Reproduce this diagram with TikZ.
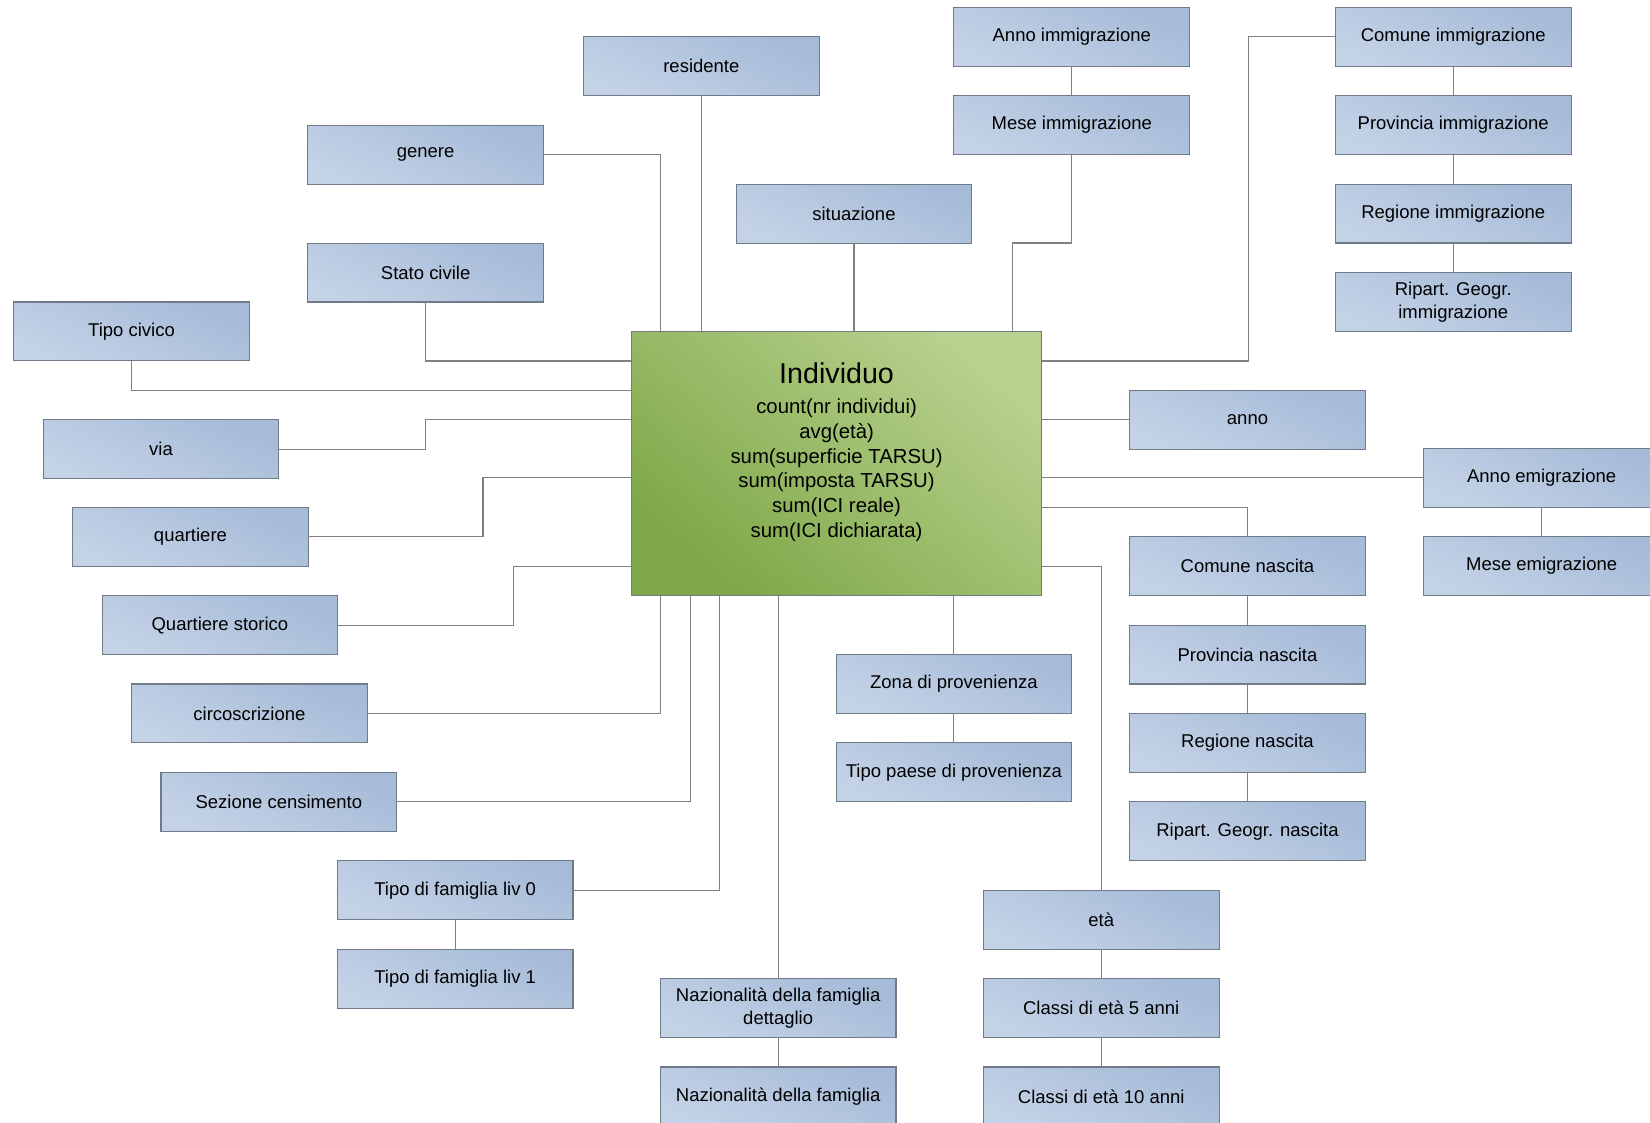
\documentclass[tikz,border=0pt]{standalone}
\usepackage{fontspec}
\setmainfont{Liberation Sans}
\usetikzlibrary{positioning, calc}

\definecolor{boxtop}{RGB}{166,187,216}
\definecolor{boxbottom}{RGB}{196,210,230}
\definecolor{boxline}{RGB}{112,122,136}
\definecolor{facttop}{RGB}{184,209,142}
\definecolor{factbottom}{RGB}{126,168,72}
\definecolor{linkgray}{RGB}{128,128,128}

\begin{document}
\begin{tikzpicture}[
    x=0.02cm, y=-0.02cm,
    node distance=0.56cm,
    dimbox/.style={rectangle, draw=boxline, line width=0.6pt, outer sep=0pt, top color=boxtop, bottom color=boxbottom, shading angle=-25, minimum width=4.48cm, minimum height=1.12cm, inner sep=2pt, align=center, font=\fontsize{10}{12.5}\selectfont},
    factbox/.style={rectangle, draw=boxline, line width=0.6pt, outer sep=0pt, top color=facttop, bottom color=factbottom, shading angle=-40, minimum width=7.8cm, minimum height=5.02cm},
    link/.style={draw=linkgray, line width=0.6pt}
]

\fill [white] (0,0) rectangle (1568,1067);
\clip (0,0) rectangle (1568,1067);

% fact
\node (ind) [factbox] at (795,440.5) {};
\node (indtext) [align=center, font=\fontsize{11}{13.4}\selectfont] at ($(ind.center)+(0,-11)$) {{\fontsize{15.5}{18}\selectfont Individuo}\\[3pt] count(nr individui)\\ avg(età)\\ sum(superficie TARSU)\\ sum(imposta TARSU)\\ sum(ICI reale)\\ sum(ICI dichiarata)};

% top
\node (residente) [dimbox] at (666.5,63) {residente};
\node (genere) [dimbox] at (404.5,147) {genere};
\node (stato) [dimbox] at (404.5,259) {Stato civile};
\node (situazione) [dimbox] at (811.5,203) {situazione};
\node (annoimm) [dimbox] at (1018.5,35) {Anno immigrazione};
\node (meseimm) [dimbox, below=of annoimm] {Mese immigrazione};
\node (comimm) [dimbox] at (1381,35) {Comune immigrazione};
\node (provimm) [dimbox, below=of comimm] {Provincia immigrazione};
\node (regimm) [dimbox, below=of provimm] {Regione immigrazione};
\node (ripimm) [dimbox, below=of regimm] {Ripart. Geogr.\\immigrazione};

% left
\node (tipociv) [dimbox] at (125,315) {Tipo civico};
\node (via) [dimbox] at (153,427) {via};
\node (quart) [dimbox] at (181,510) {quartiere};
\node (quartst) [dimbox] at (209,594) {Quartiere storico};
\node (circ) [dimbox] at (237,678) {circoscrizione};
\node (sezione) [dimbox] at (265,762) {Sezione censimento};

% bottom
\node (fam0) [dimbox] at (432.5,846) {Tipo di famiglia liv 0};
\node (fam1) [dimbox, below=of fam0] {Tipo di famiglia liv 1};
\node (nazdett) [dimbox] at (739.5,958) {Nazionalità della famiglia\\dettaglio};
\node (naz) [dimbox, below=of nazdett] {Nazionalità della famiglia};
\node (zona) [dimbox] at (906.5,650) {Zona di provenienza};
\node (tipopaese) [dimbox, below=of zona] {Tipo paese di provenienza};
\node (eta) [dimbox] at (1046.5,874) {età};
\node (classi5) [dimbox, below=of eta] {Classi di età 5 anni};
\node (classi10) [dimbox, below=of classi5] {Classi di età 10 anni};

% right
\node (anno) [dimbox] at (1185.5,399) {anno};
\node (annoemi) [dimbox] at (1465,454) {Anno emigrazione};
\node (meseemi) [dimbox, below=of annoemi] {Mese emigrazione};
\node (comnasc) [dimbox] at (1185.5,538) {Comune nascita};
\node (provnasc) [dimbox, below=of comnasc] {Provincia nascita};
\node (regnasc) [dimbox, below=of provnasc] {Regione nascita};
\node (ripnasc) [dimbox, below=of regnasc] {Ripart. Geogr. nascita};

% links to the fact
\draw [link] (genere.east) -| ($(ind.north west)+(28,0)$);
\draw [link] (residente) -- (residente |- ind.north);
\draw [link] (situazione) -- (situazione |- ind.north);
\draw [link] (meseimm.south) -- ++(0,84) -| ($(ind.north west)+(362,0)$);
\draw [link] (comimm.west) -- ++(-83,0) |- ($(ind.north east)+(0,28)$);
\draw [link] (anno) -- (anno -| ind.east);
\draw [link] (annoemi) -- (annoemi -| ind.east);
\draw [link] ($(ind.north east)+(0,167)$) -| (comnasc.north);
\draw [link] ($(ind.north east)+(0,223)$) -| (eta.north);
\draw [link] (circ.east) -| ($(ind.south west)+(28,0)$);
\draw [link] (sezione.east) -| ($(ind.south west)+(56,0)$);
\draw [link] (fam0.east) -| ($(ind.south west)+(84,0)$);
\draw [link] (nazdett) -- (nazdett |- ind.south);
\draw [link] (zona) -- (zona |- ind.south);
\draw [link] (stato.south) |- ($(ind.north west)+(0,28)$);
\draw [link] (tipociv.south) |- ($(ind.north west)+(0,56)$);
\draw [link] (via.east) -- ++(139,0) |- ($(ind.north west)+(0,84)$);
\draw [link] (quart.east) -- ++(166,0) |- ($(ind.north west)+(0,139)$);
\draw [link] (quartst.east) -- ++(167,0) |- ($(ind.north west)+(0,223)$);

% hierarchies
\draw [link] (annoimm) -- (meseimm);
\draw [link] (comimm) -- (provimm);
\draw [link] (provimm) -- (regimm);
\draw [link] (regimm) -- (ripimm);
\draw [link] (annoemi) -- (meseemi);
\draw [link] (comnasc) -- (provnasc);
\draw [link] (provnasc) -- (regnasc);
\draw [link] (regnasc) -- (ripnasc);
\draw [link] (zona) -- (tipopaese);
\draw [link] (eta) -- (classi5);
\draw [link] (classi5) -- (classi10);
\draw [link] (fam0) -- (fam1);
\draw [link] (nazdett) -- (naz);

\end{tikzpicture}
\end{document}
